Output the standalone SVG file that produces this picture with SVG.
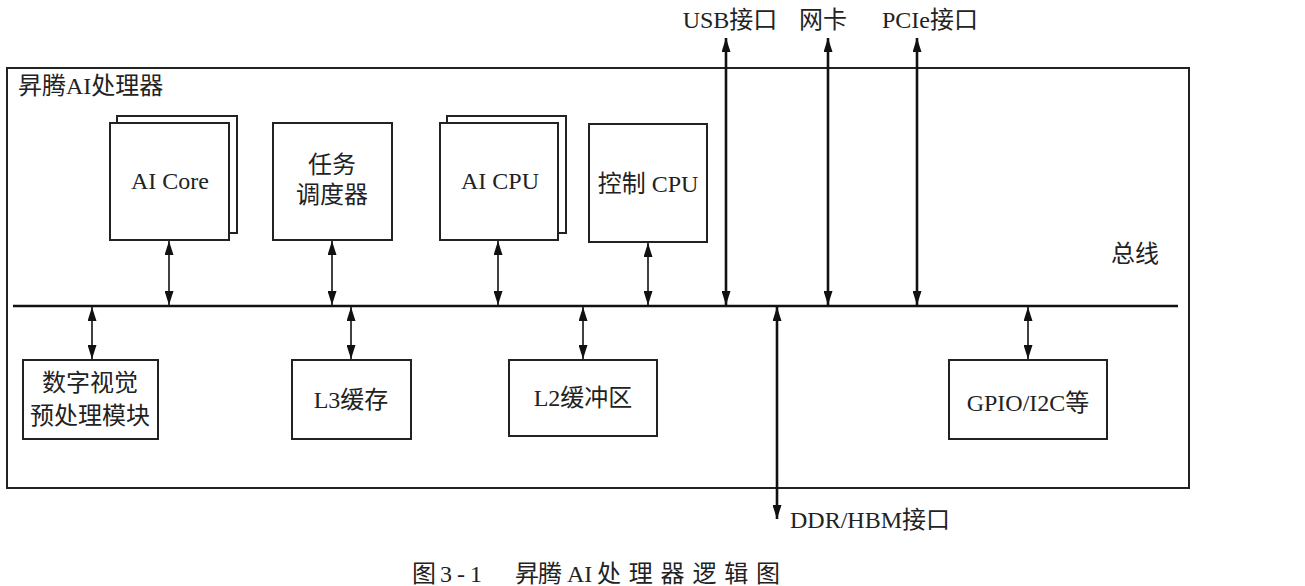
<svg xmlns="http://www.w3.org/2000/svg" width="1305" height="586" viewBox="0 0 1305 586">
<style>
.box{fill:#fff;stroke:#222;stroke-width:2}
.t{font-family:"Liberation Serif","Noto Sans CJK SC",serif;font-size:24px;fill:#222;text-anchor:middle}
.tl{font-family:"Liberation Serif","Noto Sans CJK SC",serif;font-size:24px;fill:#222}
.c{stroke:#111;stroke-width:1.6;fill:none;marker-start:url(#ah);marker-end:url(#ah)}
.ct{stroke:#111;stroke-width:2.6;fill:none;marker-start:url(#ah);marker-end:url(#ah)}
</style>
<defs>
<marker id="ah" markerUnits="userSpaceOnUse" markerWidth="14" markerHeight="9" refX="14" refY="4.5" orient="auto-start-reverse"><path d="M0,0 L14,4.5 L0,9 z" fill="#111"/></marker>
</defs>
<rect width="1305" height="586" fill="#fff"/>
<g id="chip">
<rect x="7" y="68" width="1182" height="420" fill="none" stroke="#222" stroke-width="2"/>
<text class="tl" x="18" y="94" font-size="25">昇腾AI处理器</text>
</g>
<g id="bus">
<line x1="13" y1="306" x2="1178" y2="306" stroke="#111" stroke-width="2.6"/>
<text class="t" x="1135" y="262">总线</text>
</g>
<g id="aicore">
<rect class="box" x="117" y="116" width="120" height="117"/>
<rect class="box" x="110" y="123" width="119" height="117"/>
<text class="t" x="170" y="189">AI Core</text>
</g>
<g id="scheduler">
<rect class="box" x="273" y="123" width="119" height="117"/>
<text class="t" x="332" y="173">任务</text>
<text class="t" x="332" y="203">调度器</text>
</g>
<g id="aicpu">
<rect class="box" x="447" y="116" width="119" height="117"/>
<rect class="box" x="440" y="123" width="118" height="117"/>
<text class="t" x="500" y="189">AI CPU</text>
</g>
<g id="ctrlcpu">
<rect class="box" x="589" y="124" width="118" height="118"/>
<text class="t" x="648" y="192">控制 CPU</text>
</g>
<g id="dvpp">
<rect class="box" x="23" y="360" width="135" height="79"/>
<text class="t" x="90" y="391">数字视觉</text>
<text class="t" x="90" y="424">预处理模块</text>
</g>
<g id="l3">
<rect class="box" x="292" y="360" width="119" height="79"/>
<text class="t" x="351" y="408">L3缓存</text>
</g>
<g id="l2">
<rect class="box" x="509" y="360" width="148" height="76"/>
<text class="t" x="583" y="406">L2缓冲区</text>
</g>
<g id="gpio">
<rect class="box" x="949" y="360" width="158" height="79"/>
<text class="t" x="1028" y="411">GPIO/I2C等</text>
</g>
<g id="external">
<text class="t" x="730" y="28">USB接口</text>
<text class="t" x="823" y="28">网卡</text>
<text class="t" x="930" y="28">PCIe接口</text>
<text class="tl" x="790" y="528" font-size="25">DDR/HBM接口</text>
</g>
<g id="connectors">
<line class="c" x1="169" y1="241" x2="169" y2="305"/>
<line class="c" x1="332" y1="241" x2="332" y2="305"/>
<line class="c" x1="498" y1="241" x2="498" y2="305"/>
<line class="c" x1="648" y1="243" x2="648" y2="305"/>
<line class="c" x1="92" y1="307" x2="92" y2="359"/>
<line class="c" x1="351" y1="307" x2="351" y2="359"/>
<line class="c" x1="583" y1="307" x2="583" y2="359"/>
<line class="c" x1="1028" y1="307" x2="1028" y2="359"/>
<line class="ct" x1="726" y1="38" x2="726" y2="305"/>
<line class="ct" x1="828" y1="38" x2="828" y2="305"/>
<line class="ct" x1="917" y1="38" x2="917" y2="305"/>
<line class="ct" x1="777" y1="307" x2="777" y2="519"/>
</g>
<g id="caption">
<text class="tl" y="582" font-size="22"><tspan x="412">图</tspan><tspan x="440" textLength="42">3-1</tspan><tspan x="515" textLength="47">昇腾</tspan><tspan x="567">AI</tspan><tspan x="597" textLength="183">处理器逻辑图</tspan></text>
</g>
</svg>
